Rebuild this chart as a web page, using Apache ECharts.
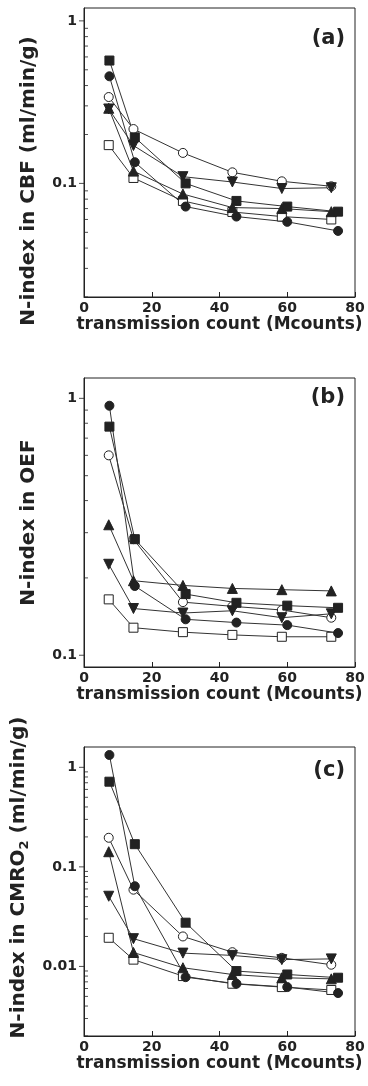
<!DOCTYPE html>
<html>
<head>
<meta charset="utf-8">
<script src="https://cdn.jsdelivr.net/npm/echarts@6/dist/echarts.min.js"></script>
<style>
  html, body { margin: 0; padding: 0; background: #fff; }
  #chart { width: 368px; height: 1086px; }
</style>
</head>
<body>
<div id="chart"></div>
<script>
// transmission counts (Mcounts) for the two groups of subjects
const countsA = [7.5, 15, 30, 45, 60, 75];
const countsB = [7.3, 14.6, 29.2, 43.8, 58.4, 73];

// (a) N-index in CBF
const cbfSqFilled = [0.57, 0.192, 0.100, 0.078, 0.072, 0.067];
const cbfCircFilled = [0.456, 0.135, 0.072, 0.0625, 0.058, 0.051];
const cbfCircOpen = [0.34, 0.216, 0.154, 0.117, 0.103, 0.096];
const cbfTriDown = [0.287, 0.171, 0.110, 0.102, 0.093, 0.094];
const cbfTriUp = [0.29, 0.119, 0.086, 0.071, 0.070, 0.067];
const cbfSqOpen = [0.172, 0.108, 0.078, 0.0667, 0.0625, 0.060];

// (b) N-index in OEF
const oefSqFilled = [0.776, 0.283, 0.173, 0.160, 0.156, 0.153];
const oefCircFilled = [0.936, 0.186, 0.138, 0.134, 0.131, 0.122];
const oefCircOpen = [0.60, 0.283, 0.161, 0.155, 0.150, 0.140];
const oefTriDown = [0.226, 0.152, 0.146, 0.149, 0.140, 0.145];
const oefTriUp = [0.322, 0.195, 0.187, 0.182, 0.180, 0.178];
const oefSqOpen = [0.165, 0.128, 0.123, 0.120, 0.118, 0.118];

// (c) N-index in CMRO2
const cmroSqFilled = [0.717, 0.169, 0.0275, 0.00898, 0.0083, 0.0077];
const cmroCircFilled = [1.33, 0.0639, 0.0078, 0.0067, 0.0062, 0.0054];
const cmroCircOpen = [0.196, 0.059, 0.020, 0.0139, 0.0122, 0.0104];
const cmroTriDown = [0.0507, 0.019, 0.0136, 0.0129, 0.0117, 0.0119];
const cmroTriUp = [0.142, 0.0138, 0.0097, 0.0083, 0.0077, 0.0075];
const cmroSqOpen = [0.0194, 0.0117, 0.0080, 0.0067, 0.0062, 0.0058];

// y axis ticks
const majorTicksA = [0.1, 1];
const minorTicksA = [0.02, 0.03, 0.04, 0.05, 0.06, 0.07, 0.08, 0.09, 0.2, 0.3, 0.4, 0.5, 0.6, 0.7, 0.8, 0.9];
const majorTicksB = [0.1, 1];
const minorTicksB = [0.2, 0.3, 0.4, 0.5, 0.6, 0.7, 0.8, 0.9];
const majorTicksC = [0.01, 0.1, 1];
const minorTicksC = [0.002, 0.003, 0.004, 0.005, 0.006, 0.007, 0.008, 0.009,
  0.02, 0.03, 0.04, 0.05, 0.06, 0.07, 0.08, 0.09, 0.2, 0.3, 0.4, 0.5, 0.6, 0.7, 0.8, 0.9];

const FONT = 'DejaVu Sans';
const INK = '#222';

const markers = [
  { key: 'SqOpen', symbol: 'rect', fill: '#fff', rotate: 0, counts: countsB },
  { key: 'CircOpen', symbol: 'circle', fill: '#fff', rotate: 0, counts: countsB },
  { key: 'TriUp', symbol: 'triangle', fill: INK, rotate: 0, counts: countsB },
  { key: 'TriDown', symbol: 'triangle', fill: INK, rotate: 180, counts: countsB },
  { key: 'CircFilled', symbol: 'circle', fill: INK, rotate: 0, counts: countsA },
  { key: 'SqFilled', symbol: 'rect', fill: INK, rotate: 0, counts: countsA }
];

const panels = [
  {
    tag: '(a)', prefix: 'cbf', top: 8, tagTop: 28, min: 0.02, max: 1.2,
    name: 'N-index in CBF (ml/min/g)', namePad: [0, 57, 0, 0],
    major: majorTicksA, minor: minorTicksA
  },
  {
    tag: '(b)', prefix: 'oef', top: 378, tagTop: 387, min: 0.09, max: 1.2,
    name: 'N-index in OEF', namePad: [0, 0, 0, 0],
    major: majorTicksB, minor: minorTicksB
  },
  {
    tag: '(c)', prefix: 'cmro', top: 747, tagTop: 760, min: 0.002, max: 1.6,
    name: 'N-index in CMRO{sub|2} (ml/min/g)', namePad: [0, 0, 0, 28],
    major: majorTicksC, minor: minorTicksC
  }
];

const seriesData = {
  cbfSqFilled, cbfCircFilled, cbfCircOpen, cbfTriDown, cbfTriUp, cbfSqOpen,
  oefSqFilled, oefCircFilled, oefCircOpen, oefTriDown, oefTriUp, oefSqOpen,
  cmroSqFilled, cmroCircFilled, cmroCircOpen, cmroTriDown, cmroTriUp, cmroSqOpen
};

const grid = [];
const xAxis = [];
const yAxis = [];
const series = [];
const title = [];

panels.forEach((p, i) => {
  grid.push({
    left: 84, top: p.top, width: 271, height: 289,
    containLabel: false, outerBoundsMode: 'none',
    show: true, borderColor: INK, borderWidth: 1
  });

  xAxis.push({
    type: 'value', gridIndex: i, min: 0, max: 80, interval: 20,
    name: 'transmission count (Mcounts)', nameLocation: 'middle', nameGap: 17,
    nameTextStyle: { fontFamily: FONT, fontWeight: 'bold', fontSize: 17, color: INK },
    axisLine: { lineStyle: { color: INK, width: 1 } },
    axisTick: { inside: true, length: 5, lineStyle: { color: INK } },
    axisLabel: { margin: 4, fontFamily: FONT, fontWeight: 'bold', fontSize: 14, color: INK },
    splitLine: { show: false }
  });

  yAxis.push({
    type: 'log', logBase: 10, gridIndex: i, min: p.min, max: p.max,
    name: p.name, nameLocation: 'middle', nameGap: 35,
    nameTextStyle: {
      fontFamily: FONT, fontWeight: 'bold', fontSize: 20, color: INK,
      lineHeight: 26, padding: p.namePad,
      rich: {
        sub: { fontFamily: FONT, fontWeight: 'bold', fontSize: 13, color: INK, verticalAlign: 'bottom', lineHeight: 26 }
      }
    },
    axisLine: { lineStyle: { color: INK, width: 1 } },
    axisTick: { show: false },
    axisLabel: {
      margin: 7, fontFamily: FONT, fontWeight: 'bold', fontSize: 14, color: INK,
      formatter: v => {
        const e = Math.log10(v);
        return Math.abs(e - Math.round(e)) < 1e-6 ? String(+v.toPrecision(3)) : '';
      }
    },
    splitLine: { show: false }
  });

  title.push({
    text: p.tag, right: 23, top: p.tagTop, padding: 0,
    textStyle: { fontFamily: FONT, fontWeight: 'bold', fontSize: 21, color: INK }
  });

  // major ticks (outward) and minor ticks (inward) on the log axis
  series.push({
    type: 'scatter', xAxisIndex: i, yAxisIndex: i, silent: true, clip: false,
    symbol: 'rect', symbolSize: [5, 1], symbolOffset: [-2.5, 0],
    itemStyle: { color: INK }, z: 5,
    data: p.major.map(v => [0, v])
  });
  series.push({
    type: 'scatter', xAxisIndex: i, yAxisIndex: i, silent: true, clip: false,
    symbol: 'rect', symbolSize: [4, 1], symbolOffset: [2, 0],
    itemStyle: { color: INK }, z: 5,
    data: p.minor.map(v => [0, v])
  });

  markers.forEach(m => {
    const vals = seriesData[p.prefix + m.key];
    series.push({
      type: 'line', xAxisIndex: i, yAxisIndex: i,
      data: vals.map((v, k) => [m.counts[k], v]),
      symbol: m.symbol,
      symbolSize: m.symbol === 'triangle' ? 10 : 9,
      symbolRotate: m.rotate,
      showAllSymbol: true,
      lineStyle: { color: '#333', width: 1 },
      itemStyle: { color: m.fill, borderColor: INK, borderWidth: 1 },
      animation: false
    });
  });
});

const chart = echarts.init(document.getElementById('chart'));
chart.setOption({
  animation: false,
  backgroundColor: '#fff',
  textStyle: { fontFamily: FONT },
  title,
  grid,
  xAxis,
  yAxis,
  series
});
</script>
</body>
</html>
